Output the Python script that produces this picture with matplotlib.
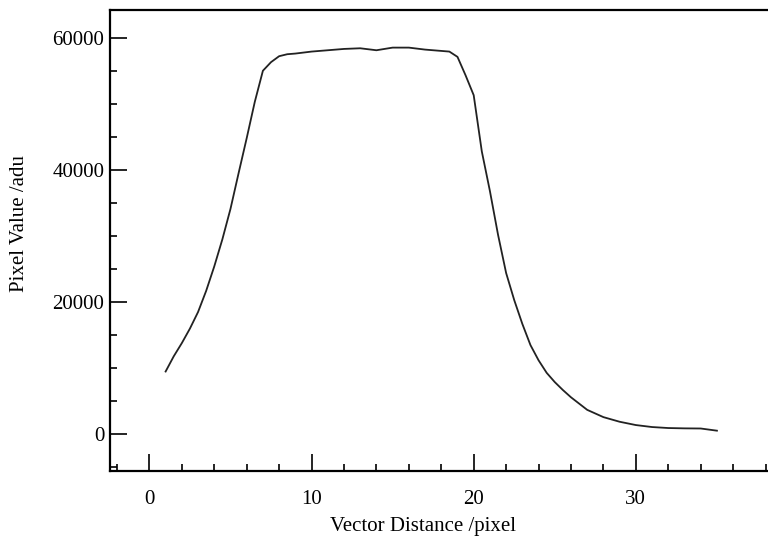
import matplotlib
matplotlib.use("Agg")
import matplotlib.pyplot as plt
from matplotlib.ticker import MultipleLocator

# Intensity profile sampled along a vector through the source
distance = [1.0, 1.5, 2.0, 2.5, 3.0, 3.5, 4.0, 4.5, 5.0, 5.5, 6.0, 6.5, 7.0,
            7.5, 8.0, 8.5, 9, 10, 11, 12, 13, 14, 15, 16, 17, 18, 18.5,
            19.0, 19.5, 20.0, 20.5, 21.0, 21.5, 22.0, 22.5, 23.0, 23.5, 24.0,
            24.5, 25.0, 25.5, 26, 27, 28, 29, 30, 31, 32, 33, 34, 35]
pixel_value = [9500, 11800, 13800, 16000, 18500, 21700, 25400, 29500, 34100,
               39500, 44800, 50300, 55000, 56300, 57200, 57500, 57600, 57900,
               58100, 58300, 58400, 58100, 58500, 58500, 58200, 58000, 57900,
               57100, 54300, 51300, 42800, 36800, 30200, 24400, 20300, 16700,
               13500, 11200, 9300, 7900, 6700, 5600, 3700, 2600, 1900, 1400,
               1100, 950, 900, 880, 550]

x_ticks = [0, 10, 20, 30]
y_ticks = [0, 20000, 40000, 60000]

plt.rcParams['font.family'] = ['Liberation Serif', 'DejaVu Serif']

fig = plt.figure(figsize=(7.68, 5.4), dpi=100)
ax = fig.add_axes([110 / 768, 1 - 471 / 540, 1 - 110 / 768, (471 - 10) / 540])

ax.plot(distance, pixel_value, color='#222222', linewidth=1.3)

ax.set_xlim(-2.43, 38.15)
ax.set_ylim(-5550, 64190)

ax.set_xticks(x_ticks)
ax.set_yticks(y_ticks)
ax.xaxis.set_minor_locator(MultipleLocator(2))
ax.yaxis.set_minor_locator(MultipleLocator(5000))
ax.tick_params(which='major', direction='in', length=12, width=1.2,
               labelsize=15, pad=14, colors='black')
ax.tick_params(which='minor', direction='in', length=5, width=1.2)
ax.tick_params(axis='y', which='major', pad=4)

for side in ('left', 'bottom', 'top'):
    ax.spines[side].set_linewidth(1.6)
ax.spines['right'].set_visible(False)

fig.text(423 / 768, 1 - 527 / 540, 'Vector Distance /pixel', fontsize=15,
         ha='center', va='center')
fig.text(20 / 768, 1 - 223 / 540, 'Pixel Value /adu', fontsize=15,
         ha='center', va='center', rotation=90)

fig.savefig('out.png', dpi=100)
